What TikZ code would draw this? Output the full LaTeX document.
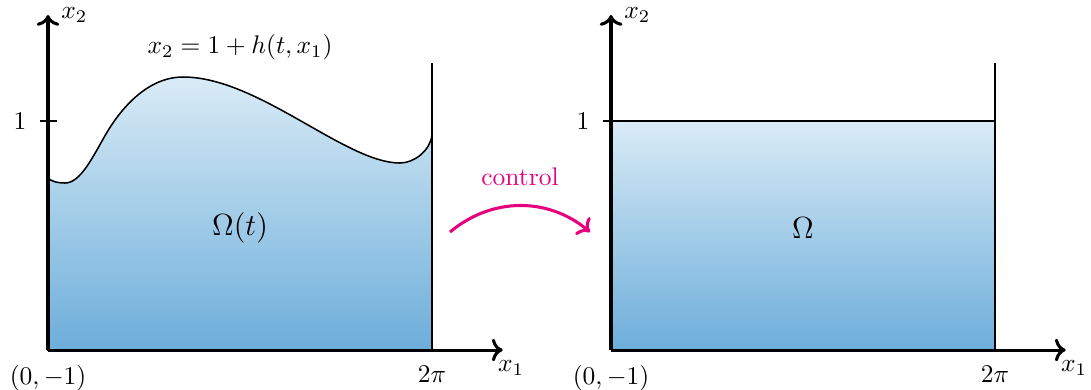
\documentclass[tikz,border=0pt]{standalone}
\usepackage{amsmath}
\usetikzlibrary{arrows.meta,positioning,calc}
\definecolor{fluidtop}{HTML}{D9EBF6}
\definecolor{fluidbot}{HTML}{6CAEDA}
\definecolor{ctrlpink}{HTML}{E6007E}

\begin{document}
\begin{tikzpicture}[
    axis/.style={->, very thick},
    surf/.style={semithick},
    water/.style={top color=fluidtop, bottom color=fluidbot},
    ctrl/.style={->, very thick, ctrlpink},
    lbl/.style={inner sep=2pt}
  ]
    \useasboundingbox (-0.662,-0.538) rectangle (14.383,4.827);

    % Moving domain, free surface x_2 = 1 + h(t,x_1)
    \shadedraw[water, surf] (0,0) -- (0,2.372)
      .. controls (0.05,2.32) and (0.15,2.303) .. (0.234,2.303)
      .. controls (0.45,2.303) and (0.62,2.67) .. (0.8,2.98)
      .. controls (0.98,3.29) and (1.35,3.765) .. (1.862,3.765)
      .. controls (2.9,3.765) and (4.1,2.579) .. (4.854,2.579)
      .. controls (5.05,2.579) and (5.27,2.75) .. (5.295,2.965)
      -- (5.295,0) -- cycle;

    % Reference domain
    \begin{scope}[xshift=7.764cm]
      \shade[water] (0,0) rectangle (5.295,3.158);
      \coordinate (lidL) at (0,3.158);
      \coordinate (lidR) at (5.295,3.158);
      \draw[surf] (lidL) -- (lidR);
    \end{scope}

    % Axes, walls, ticks
    \foreach \p/\sx in {l/0, r/7.764}{
      \begin{scope}[xshift=\sx cm]
        \coordinate (o\p) at (0,0);
        \coordinate (e1\p) at (6.27,0);
        \coordinate (e2\p) at (0,4.62);
        \coordinate (foot\p) at (5.295,0);
        \coordinate (top\p) at (5.295,3.958);
        \coordinate (tka\p) at (-0.115,3.158);
        \coordinate (tkb\p) at (0.13,3.158);
        \draw[surf] (foot\p) -- (top\p);
        \draw[thick] (tka\p) -- (tkb\p);
        \draw[axis] (o\p) -- (e1\p);
        \draw[axis] (o\p) -- (e2\p);
        \node[lbl, below right=2pt and -4pt of e1\p] (x1\p) {$x_1$};
        \node[lbl, right=3pt of e2\p] (x2\p) {$x_2$};
        \node[lbl, below=4pt of o\p] (orig\p) {$(0,-1)$};
        \node[lbl, below=4pt of foot\p] (twopi\p) {$2\pi$};
        \node[lbl, left=3pt of tka\p] (one\p) {$1$};
      \end{scope}
    }

    % Labels
    \node (surflbl) at (2.648,4.178) {$x_2=1+h(t,x_1)$};
    \node (omegat) at (2.648,1.682) {\large $\Omega(t)$};
    \node (omega) at (10.412,1.682) {\large $\Omega$};

    % Control map
    \coordinate (ctrlA) at (5.544,1.627);
    \coordinate (ctrlB) at (7.474,1.627);
    \draw[ctrl] (ctrlA) to[bend left=40]
      node[midway, above=4pt] (ctrllbl) {control} (ctrlB);
  \end{tikzpicture}
\end{document}
